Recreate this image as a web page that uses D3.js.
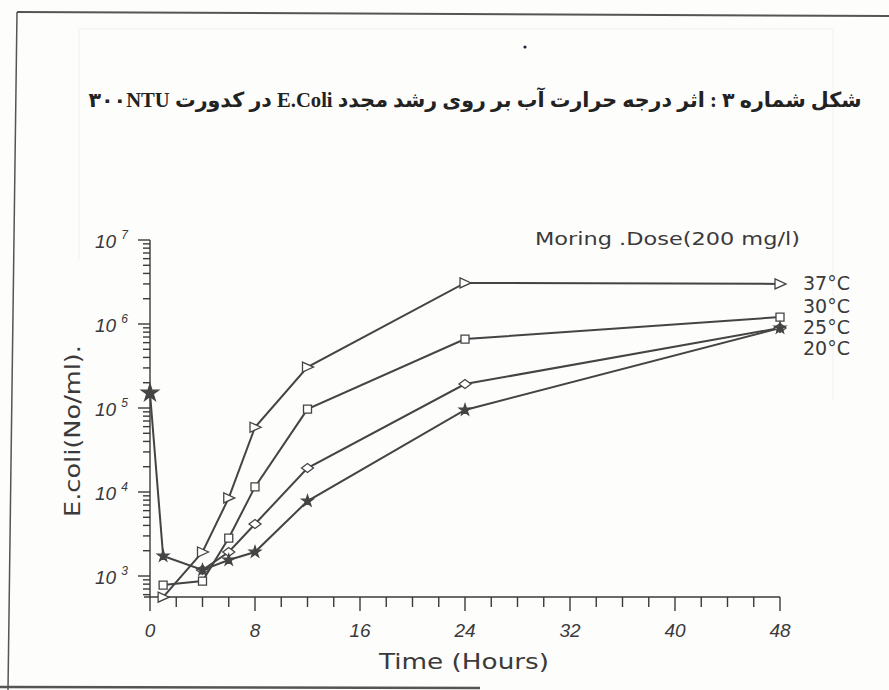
<!DOCTYPE html>
<html>
<head>
<meta charset="utf-8">
<script src="https://cdn.jsdelivr.net/npm/d3@7"></script>
<style>
  html, body { margin: 0; padding: 0; background: #fdfdfc; }
  svg { display: block; }
</style>
</head>
<body>
<div class="chart"></div>
<script>
// E.coli regrowth vs time, log scale, one series per water temperature
const hours = [0, 1, 4, 6, 8, 12, 24, 48];
const tempLabels = ['37°C', '30°C', '25°C', '20°C'];
const coli37 = [null, 560, 1930, 8500, 59000, 307000, 3080000, 3000000];
const coli30 = [null, 780, 870, 2830, 11500, 97000, 662000, 1210000];
const coli25 = [null, null, 1180, 1930, 4160, 19300, 193000, 896000];
const coli20 = [151000, 1730, 1180, 1550, 1930, 7800, 94700, 896000];
const xTicks = [0, 8, 16, 24, 32, 40, 48];
const yDecades = [3, 4, 5, 6, 7];

const titleText = 'شکل شماره ۳ : اثر درجه حرارت آب بر روی رشد مجدد E.Coli در کدورت ۳۰۰NTU';
const doseText = 'Moring .Dose(200 mg/l)';

const width = 889;
const height = 690;
const ink = '#3a3a3a';

const svg = d3.select('.chart').append('svg')
  .attr('width', width)
  .attr('height', height);

// scanned page frame
const frame = svg.append('g').attr('stroke', '#555').attr('fill', 'none');
frame.append('path').attr('d', 'M17,12 L889,16').attr('stroke-width', 2);
frame.append('path').attr('d', 'M17,12 L8,690').attr('stroke-width', 1.5);
frame.append('path').attr('d', 'M0,687 L480,688').attr('stroke-width', 2.5);
svg.append('path')
  .attr('d', 'M79,29 L833,29 M79,29 L79,260 M833,29 L833,400')
  .attr('stroke', '#f0f0f0').attr('fill', 'none');
svg.append('circle').attr('cx', 525).attr('cy', 47).attr('r', 1.6).attr('fill', '#223');

// title
const title = svg.append('text')
  .attr('x', 475)
  .attr('y', 107)
  .attr('direction', 'rtl')
  .attr('text-anchor', 'middle')
  .attr('font-family', '"Liberation Serif", "DejaVu Sans", serif')
  .attr('font-weight', 'bold')
  .attr('font-size', 18)
  .attr('fill', '#222')
  .text(titleText);
const tw = title.node().getComputedTextLength();
title.attr('font-size', 18 * 774 / tw);

const x = d3.scaleLinear().domain([0, 48]).range([150, 780]);
const y = d3.scaleLog().domain([Math.pow(10, 2.75), 1e7]).range([597, 240]);

// y axis with log minor ticks
const yAxis = svg.append('g').attr('stroke', ink).attr('stroke-width', 1.4);
yAxis.append('line')
  .attr('x1', x(0)).attr('x2', x(0))
  .attr('y1', y.range()[0]).attr('y2', y.range()[1]);
const yTickVals = [];
for (let d = 2; d <= 6; d++) {
  for (let m = 1; m <= 9; m++) {
    const v = m * Math.pow(10, d);
    if (v >= y.domain()[0] && v <= 1e7) yTickVals.push({ v: v, major: m === 1 });
  }
}
yTickVals.push({ v: 1e7, major: true });
yAxis.selectAll('.yt')
  .data(yTickVals)
  .enter().append('line')
  .attr('x1', x(0))
  .attr('x2', d => x(0) - (d.major ? 12 : 7))
  .attr('y1', d => y(d.v))
  .attr('y2', d => y(d.v));

const yLab = svg.append('g')
  .attr('font-family', '"Liberation Sans", Arial, sans-serif')
  .attr('font-style', 'italic')
  .attr('fill', ink)
  .selectAll('text')
  .data(yDecades)
  .enter().append('text')
  .attr('x', 95)
  .attr('y', d => y(Math.pow(10, d)) + 8)
  .attr('font-size', 19);
yLab.append('tspan').text('10');
yLab.append('tspan')
  .attr('dx', 5)
  .attr('dy', -9)
  .attr('font-size', 12)
  .text(d => d);

// x axis
const xAxis = svg.append('g').attr('stroke', ink).attr('stroke-width', 1.4);
xAxis.append('line')
  .attr('x1', x(0) - 6).attr('x2', x(48))
  .attr('y1', y.range()[0]).attr('y2', y.range()[0]);
xAxis.selectAll('.xt')
  .data(d3.range(0, 49, 2))
  .enter().append('line')
  .attr('x1', d => x(d)).attr('x2', d => x(d))
  .attr('y1', y.range()[0])
  .attr('y2', d => y.range()[0] + (d % 8 === 0 ? 14 : 10));

svg.append('g')
  .attr('font-family', '"Liberation Sans", Arial, sans-serif')
  .attr('font-style', 'italic')
  .attr('font-size', 19)
  .attr('fill', ink)
  .attr('text-anchor', 'middle')
  .selectAll('text')
  .data(xTicks)
  .enter().append('text')
  .attr('x', d => x(d))
  .attr('y', 637)
  .text(d => d);

svg.append('text')
  .attr('x', 379).attr('y', 669)
  .attr('font-family', '"DejaVu Sans", sans-serif')
  .attr('font-size', 22)
  .attr('textLength', 170)
  .attr('lengthAdjust', 'spacingAndGlyphs')
  .attr('fill', ink)
  .text('Time  (Hours)');

svg.append('text')
  .attr('transform', 'translate(80,517) rotate(-90)')
  .attr('font-family', '"DejaVu Sans", sans-serif')
  .attr('font-size', 21)
  .attr('textLength', 172)
  .attr('lengthAdjust', 'spacingAndGlyphs')
  .attr('fill', ink)
  .text('E.coli(No/ml).');

// series
const series = [coli37, coli30, coli25, coli20].map((vals, i) => ({
  name: tempLabels[i],
  pts: hours.map((h, j) => ({ h: h, v: vals[j] })).filter(p => p.v != null)
}));

const line = d3.line()
  .x(d => x(d.h))
  .y(d => y(d.v));

const plot = svg.append('g');
plot.selectAll('.series')
  .data(series)
  .enter().append('path')
  .attr('fill', 'none')
  .attr('stroke', '#444')
  .attr('stroke-width', 2)
  .attr('d', d => line(d.pts));

const markerPath = [
  'M-5,-5L6,0L-5,5Z',
  'M-4,-4H4V4H-4Z',
  'M-6,0L0,-4.5L6,0L0,4.5Z',
  d3.symbol().type(d3.symbolStar).size(40)()
];

series.forEach((s, i) => {
  plot.selectAll('.m' + i)
    .data(s.pts)
    .enter().append('path')
    .attr('transform', d => `translate(${x(d.h)},${y(d.v)})`)
    .attr('d', (d, j) => (i === 3 && j === 0) ? d3.symbol().type(d3.symbolStar).size(90)() : markerPath[i])
    .attr('fill', i === 3 ? '#444' : '#fff')
    .attr('stroke', '#444')
    .attr('stroke-width', 1.3);
});

// labels on the right
const labelY = [283, 306, 327, 348];
svg.append('g')
  .attr('font-family', '"DejaVu Sans", sans-serif')
  .attr('font-size', 19)
  .attr('fill', ink)
  .selectAll('text')
  .data(tempLabels)
  .enter().append('text')
  .attr('x', 803)
  .attr('y', (d, i) => labelY[i] + 7)
  .attr('textLength', 47)
  .attr('lengthAdjust', 'spacingAndGlyphs')
  .text(d => d);

svg.append('text')
  .attr('x', 535).attr('y', 245)
  .attr('font-family', '"DejaVu Sans", sans-serif')
  .attr('font-size', 18)
  .attr('textLength', 265)
  .attr('lengthAdjust', 'spacingAndGlyphs')
  .attr('fill', ink)
  .text(doseText);
</script>
</body>
</html>
